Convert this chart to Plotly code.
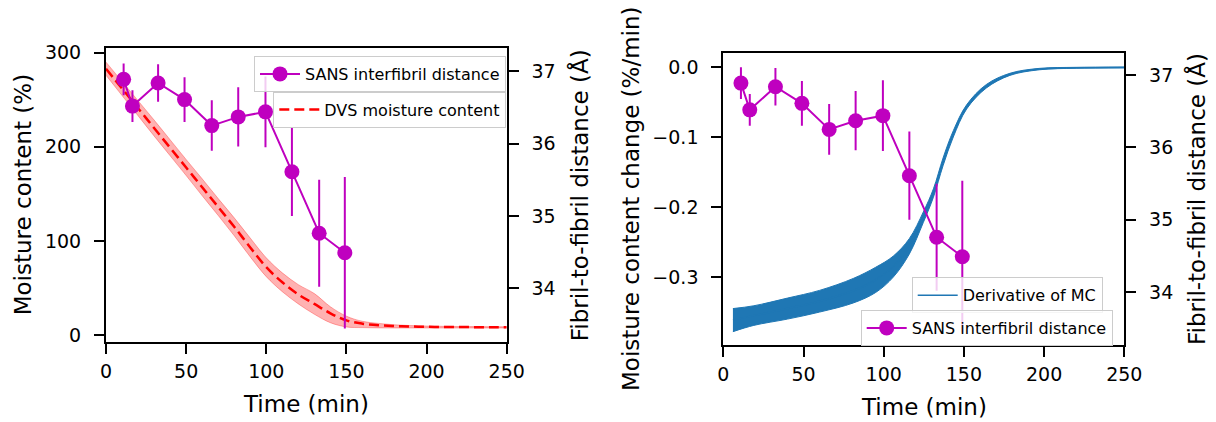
import plotly.graph_objects as go

# ---------------- data ----------------
# SANS interfibril distance (both panels)
sans_time = [11, 16.5, 32.5, 49, 66, 82.5, 99.5, 116, 133, 149]
sans_dist = [36.89, 36.52, 36.84, 36.61, 36.25, 36.37, 36.44, 35.61, 34.76, 34.49]
sans_err = [0.22, 0.22, 0.26, 0.31, 0.35, 0.41, 0.49, 0.61, 0.74, 1.05]

# DVS moisture content (left panel)
mc_time = [0, 10, 20, 30, 40, 50, 60, 70, 80, 90, 100, 110, 120, 130, 140, 150,
           160, 170, 180, 190, 200, 210, 220, 230, 240, 250]
mc_mean = [283, 262, 241, 220, 199, 178, 157, 136, 115, 93, 72, 56, 43, 33, 23, 15.5,
           12, 10.3, 9.5, 9.0, 8.7, 8.5, 8.4, 8.3, 8.2, 8.1]
mc_upper = [290, 269.5, 249, 228.5, 207.5, 186.5, 166, 145, 124.5, 103, 82, 66, 53.5, 44, 30, 20,
            14.5, 12.3, 10.8, 10.0, 9.5, 9.2, 9.0, 8.9, 8.8, 8.7]
mc_lower = [276, 254.5, 233, 211.5, 190.5, 169.5, 148, 127, 105.5, 83, 62, 46, 33, 22, 13, 8.5,
            7.8, 7.5, 7.4, 7.4, 7.4, 7.4, 7.4, 7.4, 7.4, 7.4]

# Derivative of MC (right panel): envelope of the noisy trace
der_time = [6, 19, 40, 60, 81, 95, 106, 116, 124.7, 131, 137, 143.4, 151.7, 164, 178.7, 197, 220, 250]
der_upper = [-0.345, -0.341, -0.330, -0.319, -0.302, -0.286, -0.270, -0.245, -0.207, -0.174,
             -0.130, -0.091, -0.054, -0.025, -0.009, -0.002, -0.0005, 0.0]
der_lower = [-0.378, -0.369, -0.360, -0.350, -0.337, -0.322, -0.300, -0.267, -0.222, -0.186,
             -0.141, -0.100, -0.060, -0.030, -0.012, -0.004, -0.0018, -0.0012]
der_mid = [(a + b) / 2 for a, b in zip(der_upper, der_lower)]

time_ticks = [0, 50, 100, 150, 200, 250]
mc_ticks = [0, 100, 200, 300]
dist_ticks = [34, 35, 36, 37]
der_ticks = [-0.3, -0.2, -0.1, 0.0]

MAG = "#bf00bf"
BLUE = "#1f77b4"
FONT = "DejaVu Sans"

fig = go.Figure()

# ---------- left panel ----------
fig.add_trace(go.Scatter(x=mc_time, y=mc_lower, mode="lines", line=dict(color="rgba(255,0,0,0.3)", width=1, shape="spline"),
                         xaxis="x", yaxis="y", showlegend=False, hoverinfo="skip"))
fig.add_trace(go.Scatter(x=mc_time, y=mc_upper, mode="lines", line=dict(color="rgba(255,0,0,0.3)", width=1, shape="spline"),
                         fill="tonexty", fillcolor="rgba(255,0,0,0.3)",
                         xaxis="x", yaxis="y", showlegend=False, hoverinfo="skip"))
fig.add_trace(go.Scatter(x=mc_time, y=mc_mean, mode="lines", name="DVS moisture content",
                         line=dict(color="red", width=2.5, dash="10px,5px", shape="spline"),
                         xaxis="x", yaxis="y", legend="legend2"))
fig.add_trace(go.Scatter(x=sans_time, y=sans_dist, mode="lines+markers", name="SANS interfibril distance",
                         line=dict(color=MAG, width=2), marker=dict(color=MAG, size=15),
                         error_y=dict(type="data", array=sans_err, color=MAG, thickness=2, width=0),
                         xaxis="x", yaxis="y2", legend="legend"))

# ---------- right panel ----------
fig.add_trace(go.Scatter(x=der_time, y=der_lower, mode="lines", line=dict(color=BLUE, width=1, shape="spline"),
                         xaxis="x2", yaxis="y3", showlegend=False, hoverinfo="skip"))
fig.add_trace(go.Scatter(x=der_time, y=der_upper, mode="lines", line=dict(color=BLUE, width=1, shape="spline"),
                         fill="tonexty", fillcolor=BLUE,
                         xaxis="x2", yaxis="y3", showlegend=False, hoverinfo="skip"))
fig.add_trace(go.Scatter(x=der_time, y=der_mid, mode="lines", name="Derivative of MC",
                         line=dict(color=BLUE, width=1.5, shape="spline"),
                         xaxis="x2", yaxis="y3", legend="legend3"))
fig.add_trace(go.Scatter(x=sans_time, y=sans_dist, mode="lines+markers", name="SANS interfibril distance",
                         line=dict(color=MAG, width=2), marker=dict(color=MAG, size=15),
                         error_y=dict(type="data", array=sans_err, color=MAG, thickness=2, width=0),
                         xaxis="x2", yaxis="y4", legend="legend4"))

W, H = 1216, 422
def fx(px):
    return px / W
def fy(py):
    return 1 - py / H

axis_common = dict(showline=True, linecolor="black", linewidth=2, ticks="outside", ticklen=10,
                   tickwidth=2, tickcolor="black", showgrid=False, zeroline=False, automargin=False,
                   tickfont=dict(family=FONT, size=19, color="black"))
xax = dict(ticklabelstandoff=1, **axis_common)
yax = dict(ticklabelstandoff=9, **axis_common)
title_font = dict(family=FONT, size=23, color="black")

legend_common = dict(bgcolor="rgba(255,255,255,0.8)", bordercolor="#cccccc", borderwidth=1,
                     font=dict(family=FONT, size=16, color="black"), xanchor="left", yanchor="top",
                     itemwidth=40, tracegroupgap=0)

fig.update_layout(
    width=W, height=H, margin=dict(l=0, r=0, t=0, b=0, autoexpand=False),
    paper_bgcolor="white", plot_bgcolor="white",
    font=dict(family=FONT, color="black"),
    xaxis=dict(domain=[fx(106), fx(506.7)], range=[0, 250], tickvals=time_ticks, mirror=True,
               anchor="y", **xax),
    yaxis=dict(domain=[fy(342.3), fy(48.3)], range=[-7.8, 304.7], tickvals=mc_ticks, anchor="x",
               **yax),
    yaxis2=dict(domain=[fy(342.3), fy(48.3)], range=[33.25, 37.32], tickvals=dist_ticks, overlaying="y",
                side="right", anchor="x", **yax),
    xaxis2=dict(domain=[fx(723.3), fx(1124.3)], range=[0, 250], tickvals=time_ticks, mirror=True,
                anchor="y3", **xax),
    yaxis3=dict(domain=[fy(345), fy(52.7)], range=[-0.397, 0.0204], tickvals=der_ticks, tickformat=".1f",
                anchor="x2", **yax),
    yaxis4=dict(domain=[fy(345), fy(52.7)], range=[33.27, 37.31], tickvals=dist_ticks, overlaying="y3",
                side="right", anchor="x2", **yax),
    legend=dict(x=fx(254), y=fy(56), **legend_common),
    legend2=dict(x=fx(273.3), y=fy(91.7), **legend_common),
    legend3=dict(x=fx(911.7), y=fy(277.3), **legend_common),
    legend4=dict(x=fx(860.7), y=fy(310), **legend_common),
)

# axis titles (placed as annotations)
titles = [
    ("Time (min)", (106 + 506.7) / 2, 404, 0),
    ("Moisture content (%)", 23, 195.3, -90),
    ("Fibril-to-fibril distance (Å)", 579, 195.3, -90),
    ("Time (min)", (723.3 + 1124.3) / 2, 407, 0),
    ("Moisture content change (%/min)", 631, 199, -90),
    ("Fibril-to-fibril distance (Å)", 1197, 199, -90),
]
for text, px, py, ang in titles:
    fig.add_annotation(text=text, x=fx(px), y=fy(py), xref="paper", yref="paper",
                       xanchor="center", yanchor="middle", showarrow=False, textangle=ang,
                       font=title_font)

fig.write_html("out.html")
